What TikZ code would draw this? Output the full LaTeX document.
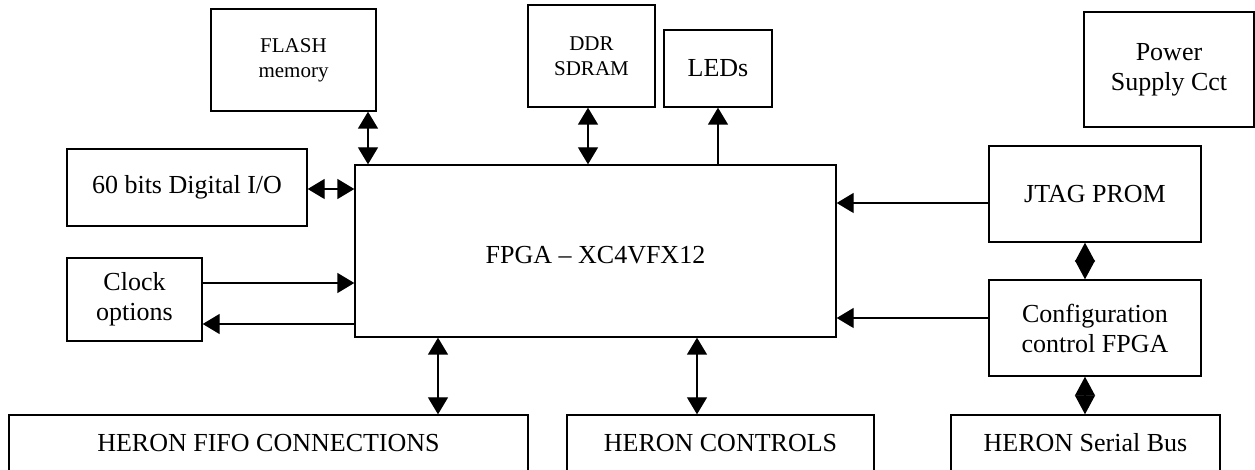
\documentclass[tikz,border=0pt]{standalone}
\usepackage{fontspec}
\setmainfont{Liberation Serif}
\usetikzlibrary{arrows.meta}
\begin{document}
\begin{tikzpicture}[x=0.5pt,y=-0.5pt,
  box/.style={draw, line width=0.7pt, inner sep=0pt, align=center, font=\fontsize{13}{15}\selectfont},
  smallbox/.style={box, font=\fontsize{10.5}{12.6}\selectfont},
  conn/.style={line width=0.7pt},
  uni/.style={conn, -{Triangle[length=8.5pt,width=10pt]}},
  bi/.style={conn, {Triangle[length=8.5pt,width=10pt]}-{Triangle[length=8.5pt,width=10pt]}},
  dia/.style={conn, {Triangle[length=9.5pt,width=10pt]}-{Triangle[length=9.5pt,width=10pt]}}]
\useasboundingbox (0,0) rectangle (1255,470);
\clip (0,0) rectangle (1255,470);
% nodes
\node[smallbox, minimum width=82.5pt, minimum height=51pt] (flash) at (293.5,60) {FLASH\\memory};
\node[box, minimum width=120pt, minimum height=38.5pt] (dio) at (187,187.5) {60 bits Digital I/O};
\node[box, minimum width=240.5pt, minimum height=86pt] (fpga) at (595.5,251) {};
\node (fpgalabel) at (595.5,255) {\fontsize{13}{15}\selectfont FPGA -- XC4VFX12};
\node[smallbox, minimum width=63.5pt, minimum height=51pt] (ddr) at (591.5,56) {DDR\\SDRAM};
\node[box, minimum width=54pt, minimum height=38.5pt] (leds) at (718,68.5) {LEDs};
\node[box, minimum width=85pt, minimum height=57.5pt] (power) at (1169,69.5) {Power\\Supply Cct};
\node[box, minimum width=106pt, minimum height=48pt] (jtag) at (1095,194) {JTAG PROM};
\node[box, minimum width=106pt, minimum height=48pt] (config) at (1095,328) {Configuration\\control FPGA};
\node[box, minimum width=67.5pt, minimum height=41.5pt] (clock) at (134.5,299.5) {Clock\\options};
\node[box, minimum width=259.5pt, minimum height=28pt] (fifo) at (268.5,443) {HERON FIFO CONNECTIONS};
\node[box, minimum width=153.5pt, minimum height=28pt] (controls) at (720.5,443) {HERON CONTROLS};
\node[box, minimum width=134.5pt, minimum height=28pt] (serial) at (1085.5,443) {HERON Serial Bus};
% connectors
\draw[bi] (flash.south -| 368,0) -- (fpga.north -| 368,0);
\draw[bi] (dio.east |- 0,189) -- (fpga.west |- 0,189);
\draw[bi] (ddr.south -| 588,0) -- (fpga.north -| 588,0);
\draw[uni] (fpga.north -| leds.south) -- (leds.south);
\draw[uni] (jtag.west |- 0,203) -- (fpga.east |- 0,203);
\draw[uni] (config.west |- 0,318) -- (fpga.east |- 0,318);
\draw[dia] (jtag.south -| 1085,0) -- (config.north -| 1085,0);
\draw[dia] (config.south -| 1085,0) -- (serial.north -| 1085,0);
\draw[uni] (clock.east |- 0,283) -- (fpga.west |- 0,283);
\draw[uni] (fpga.west |- 0,324) -- (clock.east |- 0,324);
\draw[bi] (fpga.south -| 438,0) -- (fifo.north -| 438,0);
\draw[bi] (fpga.south -| 697,0) -- (controls.north -| 697,0);
\end{tikzpicture}
\end{document}
